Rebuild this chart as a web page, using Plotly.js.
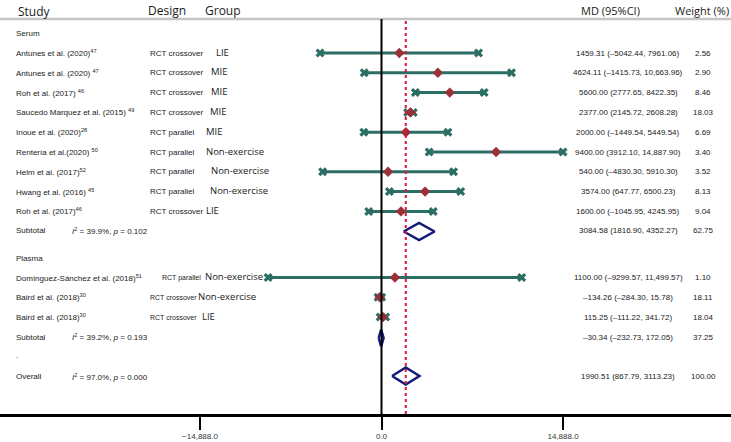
<!DOCTYPE html>
<html><head><meta charset="utf-8">
<script src="https://cdn.plot.ly/plotly-3.0.1.min.js"></script>
<style>html,body{margin:0;padding:0;background:#fff}#chart{width:731px;height:442px}</style>
</head><body><div id="chart"></div>
<script>
// ---- data ----
const serumStudies = ["Antunes et al. (2020)<sup>47</sup>", "Antunes et al. (2020) <sup>47</sup>", "Roh et al. (2017) <sup>46</sup>", "Saucedo Marquez et al. (2015) <sup>49</sup>", "Inoue et al. (2020)<sup>28</sup>", "Rentería et al.(2020) <sup>50</sup>", "Helm et al. (2017)<sup>52</sup>", "Hwang et al. (2016) <sup>45</sup>", "Roh et al. (2017)<sup>46</sup>"];
const serumDesign = ["RCT crossover", "RCT crossover", "RCT crossover", "RCT crossover", "RCT parallel", "RCT parallel", "RCT parallel", "RCT parallel", "RCT crossover"];
const serumGroup = ["LIE", "MIE", "MIE", "MIE", "MIE", "Non-exercise", "Non-exercise", "Non-exercise", "LIE"];
const serumMD = [1459.31, 4624.11, 5600.00, 2377.00, 2000.00, 9400.00, 540.00, 3574.00, 1600.00];
const serumLo = [-5042.44, -1415.73, 2777.65, 2145.72, -1449.54, 3912.10, -4830.30, 647.77, -1045.95];
const serumHi = [7961.06, 10663.96, 8422.35, 2608.28, 5449.54, 14887.90, 5910.30, 6500.23, 4245.95];
const serumWeight = [2.56, 2.90, 8.46, 18.03, 6.69, 3.40, 3.52, 8.13, 9.04];
const serumSub = {md: 3084.58, lo: 1816.90, hi: 4352.27, w: 62.75, i2: "39.9%", p: "0.102"};

const plasmaStudies = ["Domínguez-Sánchez et al. (2018)<sup>51</sup>", "Baird et al. (2018)<sup>30</sup>", "Baird et al. (2018)<sup>30</sup>"];
const plasmaDesign = ["RCT parallel", "RCT crossover", "RCT crossover"];
const plasmaGroup = ["Non-exercise", "Non-exercise", "LIE"];
const plasmaMD = [1100.00, -134.26, 115.25];
const plasmaLo = [-9299.57, -284.30, -111.22];
const plasmaHi = [11499.57, 15.78, 341.72];
const plasmaWeight = [1.10, 18.11, 18.04];
const plasmaSub = {md: -30.34, lo: -232.73, hi: 172.05, w: 37.25, i2: "39.2%", p: "0.193"};

const overall = {md: 1990.51, lo: 867.79, hi: 3113.23, w: 100.00, i2: "97.0%", p: "0.000"};
const tickVals = [-14888, 0, 14888];

// ---- layout helpers (pixel positions) ----
const W = 731;
const serumY = [53, 72.8, 92.6, 112.4, 132.2, 152, 171.8, 191.6, 211.4];
const plasmaY = [277.5, 297.3, 317.1];
const serumDesignX = [148, 148, 148, 148, 148, 148, 148, 148, 148];
const serumGroupX = [214, 209, 209, 208, 204, 204, 209, 208, 204];
const plasmaDesignX = [160, 148, 148];
const plasmaDesignSize = [7, 7, 7];
const plasmaGroupX = [203, 196, 200];

function fmt(v) {
  const s = Math.abs(v).toFixed(2);
  let [a, b] = s.split(".");
  if (Math.abs(v) >= 10000) a = a.replace(/\B(?=(\d{3})+(?!\d))/g, ",");
  return (v < 0 ? "–" : "") + a + "." + b;
}
function ci(m, l, h) { return fmt(m) + " (" + fmt(l) + ", " + fmt(h) + ")"; }

const ann = [];
const small = {family: "Liberation Sans, Arial, sans-serif", size: 8, color: "#1a1a1a"};
const grp = {family: "Open Sans, sans-serif", size: 9.5, color: "#1a1a1a"};
const head = {family: "Open Sans, sans-serif", size: 12, color: "#1a1a1a"};
function txt(text, px, y, font, anchor) {
  ann.push({text: text, x: px / W, xref: "paper", y: y, yref: "y", xanchor: anchor || "left", yanchor: "middle", showarrow: false, font: font});
}
// headers
txt("Study", 16, 11, head);
txt("Design", 146, 10, head);
txt("Group", 203, 10, head);
txt("MD (95%CI)", 610, 10, {family: "Open Sans, sans-serif", size: 11, color: "#1a1a1a"}, "center");
txt("Weight (%)", 702, 10, {family: "Open Sans, sans-serif", size: 11, color: "#1a1a1a"}, "center");

txt("Serum", 14, 33, small);
serumStudies.forEach((s, i) => {
  txt(s, 14, serumY[i], small);
  txt(serumDesign[i], serumDesignX[i], serumY[i], small);
  txt(serumGroup[i], serumGroupX[i], serumY[i] - 1, grp);
  txt(ci(serumMD[i], serumLo[i], serumHi[i]), 628, serumY[i], small, "center");
  txt(serumWeight[i].toFixed(2), 703, serumY[i], small, "center");
});
const sub1Y = 230.5;
txt("Subtotal", 14, sub1Y, small);
txt("<i>I</i><sup>2</sup> = " + serumSub.i2 + ", <i>p</i> = " + serumSub.p, 70, sub1Y, small);
txt(ci(serumSub.md, serumSub.lo, serumSub.hi), 628, sub1Y, small, "center");
txt(serumSub.w.toFixed(2), 703, sub1Y, small, "center");

txt("Plasma", 14, 258, small);
plasmaStudies.forEach((s, i) => {
  txt(s, 14, plasmaY[i], small);
  txt(plasmaDesign[i], plasmaDesignX[i], plasmaY[i], Object.assign({}, small, {size: plasmaDesignSize[i]}));
  txt(plasmaGroup[i], plasmaGroupX[i], plasmaY[i] - 1, grp);
  txt(ci(plasmaMD[i], plasmaLo[i], plasmaHi[i]), 628, plasmaY[i], small, "center");
  txt(plasmaWeight[i].toFixed(2), 703, plasmaY[i], small, "center");
});
const sub2Y = 337;
txt("Subtotal", 14, sub2Y, small);
txt("<i>I</i><sup>2</sup> = " + plasmaSub.i2 + ", <i>p</i> = " + plasmaSub.p, 70, sub2Y, small);
txt(ci(plasmaSub.md, plasmaSub.lo, plasmaSub.hi), 628, sub2Y, small, "center");
txt(plasmaSub.w.toFixed(2), 703, sub2Y, small, "center");
txt(".", 14, 355, small);
const ovY = 376.5;
txt("Overall", 14, ovY, small);
txt("<i>I</i><sup>2</sup> = " + overall.i2 + ", <i>p</i> = " + overall.p, 70, ovY, small);
txt(ci(overall.md, overall.lo, overall.hi), 628, ovY, small, "center");
txt(overall.w.toFixed(2), 703, ovY, small, "center");

// ---- traces ----
const allMD = serumMD.concat(plasmaMD), allLo = serumLo.concat(plasmaLo), allHi = serumHi.concat(plasmaHi);
const allY = serumY.concat(plasmaY);
const lx = [], ly = [], ex = [], ey = [];
allMD.forEach((m, i) => {
  lx.push(allLo[i], allHi[i], null); ly.push(allY[i], allY[i], null);
  ex.push(allLo[i], allHi[i]); ey.push(allY[i], allY[i]);
});
const teal = "#2c6e63";
const traces = [
  {type: "scatter", mode: "lines", x: lx, y: ly, line: {color: teal, width: 3}, hoverinfo: "skip"},
  {type: "scatter", mode: "markers", x: ex, y: ey, marker: {symbol: "x", size: 8, color: teal, line: {width: 0}}, hoverinfo: "skip"},
  {type: "scatter", mode: "markers", x: allMD, y: allY, marker: {symbol: "diamond", size: 8, color: "#9b3039"}, hoverinfo: "skip"}
];
function diamond(s, y) {
  const h = 8.5;
  traces.push({type: "scatter", mode: "lines", x: [s.lo, s.md, s.hi, s.md, s.lo], y: [y, y - h, y, y + h, y],
    line: {color: "#141a78", width: 2.5}, hoverinfo: "skip"});
}
diamond(serumSub, 231.5);
diamond(plasmaSub, 338);
diamond(overall, 376);

// x range so that 0 sits at ~381.5px and 14888 spans ~181.5px
const upx = 14888 / 181.5;
const xr = [-381.5 * upx, (W - 381.5) * upx];

const layout = {
  width: 731, height: 442,
  margin: {l: 0, r: 0, t: 0, b: 28},
  paper_bgcolor: "#fff", plot_bgcolor: "#fff",
  showlegend: false,
  xaxis: {range: xr, showgrid: false, zeroline: false, showline: true, linecolor: "#000", linewidth: 2.5,
    tickvals: tickVals, tickformat: ",.1f", ticks: "outside", ticklen: 13, tickwidth: 2, tickcolor: "#000",
    tickfont: {family: "Liberation Sans, Arial, sans-serif", size: 8, color: "#333"}, fixedrange: true},
  yaxis: {range: [414, 0], showgrid: false, zeroline: false, showline: false, showticklabels: false, ticks: "", fixedrange: true},
  shapes: [
    {type: "line", xref: "paper", x0: 0, x1: 1, yref: "y", y0: 19, y1: 19, line: {color: "#c4c4c4", width: 2.5}},
    {type: "line", xref: "x", x0: 0, x1: 0, yref: "y", y0: 19, y1: 414, line: {color: "#000", width: 2}},
    {type: "line", xref: "x", x0: overall.md, x1: overall.md, yref: "y", y0: 21, y1: 414, line: {color: "#e0143c", width: 2, dash: "dot"}}
  ],
  annotations: ann
};
Plotly.newPlot("chart", traces, layout, {displayModeBar: false, staticPlot: true});
</script></body></html>
